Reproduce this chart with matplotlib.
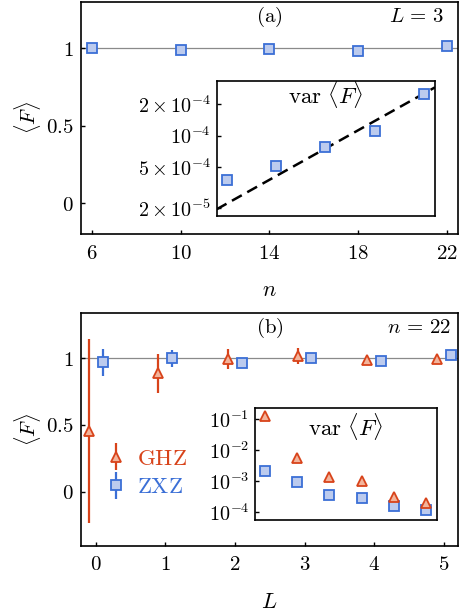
import numpy as np
import matplotlib
matplotlib.use("Agg")
import matplotlib.pyplot as plt
from matplotlib.ticker import FixedLocator, FixedFormatter, NullLocator
from matplotlib.legend_handler import HandlerErrorbar

plt.rcParams['mathtext.fontset'] = 'cm'
plt.rcParams['font.family'] = 'serif'

# panel (a): L = 3, mean fidelity vs n
n_vals = [6, 10, 14, 18, 22]
F_a = [1.0, 0.987, 0.997, 0.98, 1.013]
# inset (a): var <F> vs n
var_a = [3.72e-5, 5.14e-5, 7.7e-5, 1.11e-4, 2.49e-4]
fit_n = [5.2, 22.9]
fit_var = [1.96e-5, 2.9e-4]
inset_a_ticks = [2e-5, 5e-5, 1e-4, 2e-4]
inset_a_labels = [r'$2\times10^{-5}$', r'$5\times10^{-4}$', r'$10^{-4}$', r'$2\times10^{-4}$']

# panel (b): n = 22, mean fidelity vs L
L_vals = [0, 1, 2, 3, 4, 5]
F_ghz = [0.455, 0.888, 0.993, 1.017, 0.987, 0.997]
err_ghz = [0.69, 0.145, 0.077, 0.062, 0.02, 0.012]
F_zxz = [0.97, 1.0, 0.963, 1.005, 0.978, 1.023]
err_zxz = [0.1, 0.065, 0.015, 0.012, 0.012, 0.01]
# inset (b): var <F> vs L
var_ghz = [0.13, 5.4e-3, 1.35e-3, 9.7e-4, 3.0e-4, 1.93e-4]
var_zxz = [2.1e-3, 9.1e-4, 3.4e-4, 2.7e-4, 1.57e-4, 1.13e-4]

blue_edge = '#3b6fd6'
blue_fill = '#bccbee'
red_edge = '#d8431a'
red_fill = '#f3b49b'

fs = 15


def style_axes(ax, lw=1.2):
    for s in ax.spines.values():
        s.set_linewidth(lw)
    ax.tick_params(direction='in', length=3, width=1.0, top=False, right=False,
                   labelsize=fs)


def fmt(v):
    return '$%g$' % v


fig = plt.figure(figsize=(4.62, 6.16), dpi=100)

# ---------- panel (a)
ax1 = fig.add_axes([0.1753, 0.6201, 0.816, 0.3767])
ax1.axhline(1, color='#8a8a8a', lw=0.9, zorder=1)
ax1.plot(n_vals, F_a, 's', ms=6.5, mfc=blue_fill, mec=blue_edge, mew=1.3, zorder=3)
ax1.set_xlim(5.5, 22.5)
ax1.set_ylim(-0.2, 1.3)
ax1.set_xticks(n_vals)
ax1.set_xticklabels([fmt(v) for v in n_vals])
ax1.set_yticks([0, 0.5, 1])
ax1.set_yticklabels([fmt(v) for v in [0, 0.5, 1]])
style_axes(ax1)
ax1.tick_params(axis='x', pad=7)
ax1.tick_params(axis='y', pad=5)
ax1.text(0.5, 0.937, r'$\mathrm{(a)}$', transform=ax1.transAxes, ha='center', va='center', fontsize=fs)
ax1.text(0.963, 0.937, r'$L\,=\,3$', transform=ax1.transAxes, ha='right', va='center', fontsize=fs)
ax1.text(-0.143, 0.5, r'$\langle F\rangle$', transform=ax1.transAxes, ha='center', va='center',
         rotation=90, fontsize=fs)
ax1.text(0.5, -0.241, r'$n$', transform=ax1.transAxes, ha='center', va='center', fontsize=fs + 1)

# inset (a)
ia = fig.add_axes([0.469, 0.6494, 0.4725, 0.2196])
ia.set_yscale('log')
ia.plot(fit_n, fit_var, '--', color='black', lw=1.8, dashes=(4.5, 2.5), zorder=2)
ia.plot(n_vals, var_a, 's', ms=6.5, mfc=blue_fill, mec=blue_edge, mew=1.3, zorder=3)
ia.set_xlim(5.2, 22.9)
ia.set_ylim(1.69e-5, 3.36e-4)
ia.xaxis.set_major_locator(NullLocator())
ia.yaxis.set_major_locator(FixedLocator(inset_a_ticks))
ia.yaxis.set_major_formatter(FixedFormatter(inset_a_labels))
ia.yaxis.set_minor_locator(NullLocator())
style_axes(ia)
ia.tick_params(axis='y', pad=4, labelsize=fs - 0.5)
ia.text(0.5, 0.9, r'$\mathrm{var}\ \langle F\rangle$', transform=ia.transAxes, ha='center',
        va='center', fontsize=16.5)

# ---------- panel (b)
ax2 = fig.add_axes([0.1753, 0.1141, 0.8154, 0.3773])
ax2.axhline(1, color='#8a8a8a', lw=0.9, zorder=1)
L_arr = np.array(L_vals)
eg = ax2.errorbar(L_arr - 0.1, F_ghz, yerr=err_ghz, fmt='^', ms=7.5, mfc=red_fill, mec=red_edge,
                  mew=1.3, ecolor=red_edge, elinewidth=1.6, capsize=0, zorder=3, label='GHZ')
ez = ax2.errorbar(L_arr + 0.1, F_zxz, yerr=err_zxz, fmt='s', ms=6.5, mfc=blue_fill, mec=blue_edge,
                  mew=1.3, ecolor=blue_edge, elinewidth=1.6, capsize=0, zorder=3, label='ZXZ')
ax2.set_xlim(-0.21, 5.2)
ax2.set_ylim(-0.405, 1.337)
ax2.set_xticks(L_vals)
ax2.set_xticklabels([fmt(v) for v in L_vals])
ax2.set_yticks([0, 0.5, 1])
ax2.set_yticklabels([fmt(v) for v in [0, 0.5, 1]])
style_axes(ax2)
ax2.tick_params(axis='x', pad=7)
ax2.tick_params(axis='y', pad=5)
ax2.text(0.5, 0.937, r'$\mathrm{(b)}$', transform=ax2.transAxes, ha='center', va='center', fontsize=fs)
ax2.text(0.981, 0.937, r'$n\,=\,22$', transform=ax2.transAxes, ha='right', va='center', fontsize=fs)
ax2.text(-0.143, 0.498, r'$\langle F\rangle$', transform=ax2.transAxes, ha='center', va='center',
         rotation=90, fontsize=fs)
ax2.text(0.5, -0.241, r'$L$', transform=ax2.transAxes, ha='center', va='center', fontsize=fs + 1)

leg = ax2.legend(handles=[eg, ez], labels=[r'$\mathrm{GHZ}$', r'$\mathrm{ZXZ}$'],
                 loc='center left', bbox_to_anchor=(0.04, 0.313), frameon=False,
                 fontsize=16.5, handlelength=0.9, handletextpad=0.5, labelspacing=0.3,
                 borderaxespad=0, handler_map={type(eg): HandlerErrorbar(xerr_size=0.6)})
leg.get_texts()[0].set_color(red_edge)
leg.get_texts()[1].set_color(blue_edge)

# inset (b)
ib = fig.add_axes([0.552, 0.1558, 0.3933, 0.1823])
ib.set_yscale('log')
ib.plot(L_vals, var_zxz, 's', ms=6.5, mfc=blue_fill, mec=blue_edge, mew=1.3, zorder=3)
ib.plot(L_vals, var_ghz, '^', ms=7.5, mfc=red_fill, mec=red_edge, mew=1.3, zorder=4)
ib.set_xlim(-0.31, 5.33)
ib.set_ylim(5.4e-5, 0.236)
ib.xaxis.set_major_locator(NullLocator())
ib.yaxis.set_major_locator(FixedLocator([1e-4, 1e-3, 1e-2, 1e-1]))
ib.yaxis.set_major_formatter(FixedFormatter([r'$10^{-4}$', r'$10^{-3}$', r'$10^{-2}$', r'$10^{-1}$']))
ib.yaxis.set_minor_locator(NullLocator())
style_axes(ib)
ib.tick_params(axis='y', pad=4, labelsize=fs - 0.5)
ib.text(0.5, 0.83, r'$\mathrm{var}\ \langle F\rangle$', transform=ib.transAxes, ha='center',
        va='center', fontsize=16.5)

fig.savefig('out.png', dpi=100)
